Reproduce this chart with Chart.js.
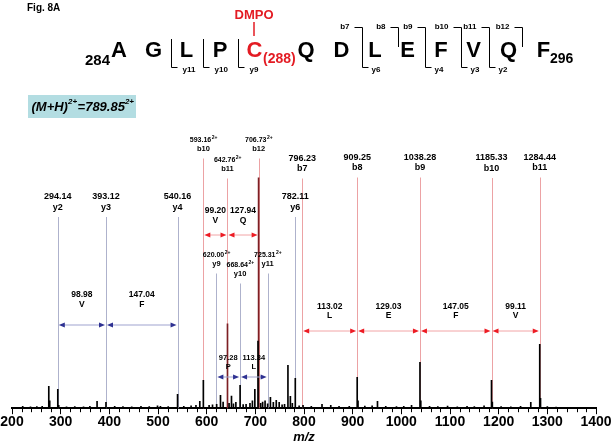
<!DOCTYPE html>
<html>
<head>
<meta charset="utf-8">
<script src="https://cdn.jsdelivr.net/npm/chart.js@4.4.0/dist/chart.umd.min.js"></script>
<style>
  html, body { margin: 0; padding: 0; background: #fff; }
  #wrap { width: 615px; height: 444px; position: relative; }
</style>
</head>
<body>
<div id="wrap"><canvas id="spectrum"></canvas></div>
<script>
// ---- spectrum peaks (m/z, relative intensity %) ----
const peakMz  = [222, 238, 251, 262, 275.6, 277.5, 294.1, 296, 312, 329, 347, 360, 374.8, 393.1, 411, 428, 446, 465, 482, 499, 505, 521,
                 540.2, 553, 568, 578, 585.9, 593.2, 605, 612, 620.5, 628.4, 633.8, 642.8, 646, 651, 655, 660, 668.7, 675, 681, 689, 694, 699,
                 706.7, 705.5, 711, 715, 720, 725.3, 731, 737, 743, 749, 755, 760, 767, 772, 776, 782.1, 790, 798, 815, 837, 855, 872, 893,
                 909.3, 911, 925, 940, 951, 968, 990, 1005, 1021, 1038.3, 1040, 1058, 1075, 1095, 1115, 1135, 1150, 1170, 1185.3, 1187,
                 1205, 1225, 1245, 1266, 1284.4, 1286, 1300, 1318];
const peakInt = [0.8, 0.6, 0.7, 0.8, 8.8, 3, 7.6, 1.2, 0.6, 0.7, 0.6, 0.8, 2.8, 2.4, 0.8, 0.7, 0.6, 0.8, 0.7, 1.0, 0.8, 0.7,
                 5.6, 0.8, 1.0, 1.2, 2.8, 11.2, 1.2, 1.4, 1.6, 5.2, 2.5, 34, 2, 4.9, 1.8, 2.4, 9.2, 1.5, 1.6, 2, 3, 7.6,
                 92.8, 27, 2, 2.5, 3, 1.8, 4.4, 2.4, 3.2, 2.4, 1.4, 1.6, 17.3, 4.8, 2, 12, 1, 1.2, 0.8, 1.6, 1.2, 0.8, 0.8,
                 12.4, 3, 0.9, 1.0, 2.8, 0.8, 0.7, 0.8, 1.2, 18.5, 3, 0.8, 0.7, 0.9, 0.6, 0.8, 0.7, 1.0, 11.2, 2.5,
                 0.7, 0.6, 0.8, 2.4, 25.7, 4, 0.7, 0.5];

// ---- assigned fragment ions ----
const ionMz     = [294.14, 393.12, 540.16, 593.16, 620.00, 642.76, 668.64, 706.73, 725.31, 782.11, 796.23, 909.25, 1038.28, 1185.33, 1284.44];
const ionName   = ['y2', 'y3', 'y4', 'b10', 'y9', 'b11', 'y10', 'b12', 'y11', 'y6', 'b7', 'b8', 'b9', 'b10', 'b11'];
const ionCharge = [1, 1, 1, 2, 2, 2, 2, 2, 2, 1, 1, 1, 1, 1, 1];

// ---- mass differences between ions ----
const gapFrom    = [294.14, 393.12, 620.00, 668.64, 593.16, 642.76, 796.23, 909.25, 1038.28, 1185.33];
const gapTo      = [393.12, 540.16, 668.64, 725.31, 642.76, 706.73, 909.25, 1038.28, 1185.33, 1284.44];
const gapMass    = ['98.98', '147.04', '97.28', '113.34', '99.20', '127.94', '113.02', '129.03', '147.05', '99.11'];
const gapResidue = ['V', 'F', 'P', 'L', 'V', 'Q', 'L', 'E', 'F', 'V'];

const xTicks = [200, 300, 400, 500, 600, 700, 800, 900, 1000, 1100, 1200, 1300, 1400];

const FONT = '"Liberation Sans", Arial, Helvetica, sans-serif';
const RED = '#e31b23';

function font(size, style) { return (style || 'bold') + ' ' + size + 'px ' + FONT; }

function text(ctx, s, x, y, size, color, align, style) {
  ctx.font = font(size, style);
  ctx.fillStyle = color || '#000';
  ctx.textAlign = align || 'center';
  ctx.textBaseline = 'middle';
  ctx.fillText(s, x, y);
}

// main text + small raised "2+" centred on x
function supText(ctx, main, sup, x, y, size, supSize, style) {
  ctx.font = font(size, style);
  const w1 = ctx.measureText(main).width;
  ctx.font = font(supSize, style);
  const w2 = ctx.measureText(sup).width;
  const x0 = x - (w1 + w2) / 2;
  text(ctx, main, x0, y, size, '#000', 'left', style);
  text(ctx, sup, x0 + w1 + 0.5, y - size * 0.35, supSize, '#000', 'left', style);
}

function vline(ctx, x, y1, y2, color, w) {
  ctx.strokeStyle = color; ctx.lineWidth = w || 1;
  ctx.beginPath(); ctx.moveTo(x, y1); ctx.lineTo(x, y2); ctx.stroke();
}
function hline(ctx, x1, x2, y, color, w) {
  ctx.strokeStyle = color; ctx.lineWidth = w || 1;
  ctx.beginPath(); ctx.moveTo(x1, y); ctx.lineTo(x2, y); ctx.stroke();
}

// label layout (pixel rows) for each ion label
const ionTextY = [197, 197, 197, 140, 255, 160, 265, 140, 255, 197, 158.5, 157.5, 157.5, 158, 157.5];
// arrow layout rows
const gapArrowY = [325, 325, 377, 377, 235, 235, 331, 331, 331, 331];
const gapTextY  = [295, 295, 358, 358, 211, 211, 306.5, 306.5, 306.5, 306.5];
const gapFont   = [8.5, 8.5, 7.5, 7.5, 8.5, 8.5, 8.5, 8.5, 8.5, 8.5];

const annotations = {
  id: 'annotations',
  beforeDatasetsDraw(chart) {
    const ctx = chart.ctx, xs = chart.scales.x, ys = chart.scales.y;
    ctx.save();
    ionMz.forEach(function(m, i) {
      const x = Math.round(xs.getPixelForValue(m)) + 0.5;
      const nameY = ionTextY[i] + (ionCharge[i] === 2 ? 9 : 10.5);
      const col = ionName[i][0] === 'b' ? '#eca2a4' : '#aeb2cc';
      vline(ctx, x, nameY + 9.5, ys.getPixelForValue(0), col, 1);
    });
    ctx.restore();
  },
  afterDraw(chart) {
    const ctx = chart.ctx, xs = chart.scales.x, ys = chart.scales.y;
    ctx.save();

    // minor ticks on the m/z axis
    const base = ys.getPixelForValue(0);
    for (let v = 220; v < 1400; v += 20) {
      if (v % 100 === 0) continue;
      const x = Math.round(xs.getPixelForValue(v)) + 0.5;
      vline(ctx, x, base, base + 4, '#000', 1);
    }

    // ion labels
    ionMz.forEach(function(m, i) {
      const x = xs.getPixelForValue(m);
      const y = ionTextY[i];
      if (ionCharge[i] === 2) {
        supText(ctx, m.toFixed(2), '2+', x, y, 7, 5);
        text(ctx, ionName[i], x, y + 9, 7.5);
      } else {
        text(ctx, m.toFixed(2), x, y, 9);
        text(ctx, ionName[i], x, y + 10.5, 9);
      }
    });

    // mass difference arrows
    gapFrom.forEach(function(f, i) {
      const isY = ionName[ionMz.indexOf(f)][0] === 'y';
      const head = isY ? '#2e3192' : '#ed1c24';
      const line = isY ? '#9fa3cf' : '#f2a4a6';
      const x1 = xs.getPixelForValue(f) + 1;
      const x2 = xs.getPixelForValue(gapTo[i]) - 1;
      const y = gapArrowY[i];
      hline(ctx, x1 + 4, x2 - 4, y, line, 1);
      ctx.fillStyle = head;
      ctx.beginPath(); ctx.moveTo(x1, y); ctx.lineTo(x1 + 6, y - 2.6); ctx.lineTo(x1 + 6, y + 2.6); ctx.closePath(); ctx.fill();
      ctx.beginPath(); ctx.moveTo(x2, y); ctx.lineTo(x2 - 6, y - 2.6); ctx.lineTo(x2 - 6, y + 2.6); ctx.closePath(); ctx.fill();
      const cx = (x1 + x2) / 2;
      const fs = gapFont[i];
      text(ctx, gapMass[i], cx, gapTextY[i], fs);
      text(ctx, gapResidue[i], cx, gapTextY[i] + fs + 1, fs);
    });

    // figure label
    text(ctx, 'Fig. 8A', 27, 8, 10, '#000', 'left');

    // precursor box
    ctx.fillStyle = '#b3dde2';
    ctx.fillRect(28, 95, 108, 23);
    (function() {
      const parts = [['(M+H)', 13], ['2+', 8, true], ['=789.85', 13], ['2+', 8, true]];
      let w = 0;
      parts.forEach(function(p) { ctx.font = font(p[1], 'italic bold'); w += ctx.measureText(p[0]).width + (p[2] ? 0.5 : 0); });
      let x = 83 - w / 2;
      parts.forEach(function(p) {
        text(ctx, p[0], x, p[2] ? 102 : 107, p[1], '#000', 'left', 'italic bold');
        ctx.font = font(p[1], 'italic bold');
        x += ctx.measureText(p[0]).width + (p[2] ? 0.5 : 0);
      });
    })();

    // peptide sequence with fragment brackets
    const seq  = ['A', 'G', 'L', 'P', 'C', 'Q', 'D', 'L', 'E', 'F', 'V', 'Q', 'F'];
    const seqX = [119, 153.5, 186.5, 220, 254.5, 306, 341.5, 375, 407.5, 441, 473.5, 508.5, 543.5];
    seq.forEach(function(s, i) {
      ctx.font = font(22);
      ctx.fillStyle = i === 4 ? RED : '#000';
      ctx.textAlign = 'center';
      ctx.textBaseline = 'alphabetic';
      ctx.fillText(s, seqX[i], 57);
    });
    ctx.font = font(15); ctx.fillStyle = '#000'; ctx.textAlign = 'right';
    ctx.fillText('284', 110, 65);
    ctx.font = font(14); ctx.textAlign = 'left';
    ctx.fillText('296', 550, 63);
    ctx.fillStyle = RED;
    ctx.fillText('(288)', 263, 63);

    text(ctx, 'DMPO', 254, 15, 13, RED);
    vline(ctx, 254, 22, 36, RED, 1.5);

    // y-only brackets
    [[171.5, 'y11'], [203.5, 'y10'], [238.5, 'y9']].forEach(function(b) {
      vline(ctx, b[0], 39, 67.5, '#000', 1);
      hline(ctx, b[0], b[0] + 6, 67.5, '#000', 1);
      text(ctx, b[1], b[0] + 11, 70, 8, '#000', 'left');
    });
    // b + y brackets
    [[362.5, 'b7', 'y6'], [425.5, 'b9', 'y4'], [461.5, 'b10', 'y3'], [489.5, 'b11', 'y2']].forEach(function(b) {
      hline(ctx, b[0] - 8, b[0], 27.5, '#000', 1);
      vline(ctx, b[0], 27.5, 67.5, '#000', 1);
      hline(ctx, b[0], b[0] + 6, 67.5, '#000', 1);
      text(ctx, b[1], b[0] - 13, 27, 8, '#000', 'right');
      text(ctx, b[2], b[0] + 9, 70, 8, '#000', 'left');
    });
    // b-only brackets
    [[398.5, 'b8'], [522.5, 'b12']].forEach(function(b) {
      hline(ctx, b[0] - 8, b[0], 27.5, '#000', 1);
      vline(ctx, b[0], 27.5, 47, '#000', 1);
      text(ctx, b[1], b[0] - 13, 27, 8, '#000', 'right');
    });

    ctx.restore();
  }
};

const ctx = document.getElementById('spectrum').getContext('2d');
const chart = new Chart(ctx, {
  type: 'bar',
  data: {
    datasets: [{
      data: peakMz.map(function(m, i) { return { x: m, y: peakInt[i] }; }),
      backgroundColor: function(c) {
        const m = peakMz[c.dataIndex];
        return (m === 642.8 || m === 706.7) ? '#7d1f24' : '#000';
      },
      borderWidth: 0,
      barThickness: 1,
      grouped: false
    }]
  },
  options: {
    responsive: true,
    maintainAspectRatio: false,
    animation: false,
    devicePixelRatio: 1,
    layout: { padding: { top: 160, left: 12, right: 19, bottom: 0 } },
    plugins: { legend: { display: false }, tooltip: { enabled: false }, title: { display: false } },
    scales: {
      x: {
        type: 'linear',
        min: 200, max: 1400,
        offset: false,
        afterBuildTicks: function(axis) { axis.ticks = xTicks.map(function(v) { return { value: v }; }); },
        ticks: {
          autoSkip: false, maxRotation: 0, padding: 0,
          color: '#000',
          callback: function(v) { return String(v); },
          font: { family: FONT, size: 14, weight: 'bold', lineHeight: 1.2 }
        },
        grid: { display: true, drawOnChartArea: false, drawTicks: true, tickLength: 6, tickColor: '#000', tickWidth: 1, offset: false },
        border: { display: true, color: '#000', width: 2 },
        title: {
          display: true, text: 'm/z', color: '#000',
          font: { family: FONT, size: 13, weight: 'bold', style: 'italic', lineHeight: 1.0 },
          padding: { top: 0, bottom: 0 }
        }
      },
      y: { display: false, min: 0, max: 100 }
    }
  },
  plugins: [annotations]
});
</script>
</body>
</html>
